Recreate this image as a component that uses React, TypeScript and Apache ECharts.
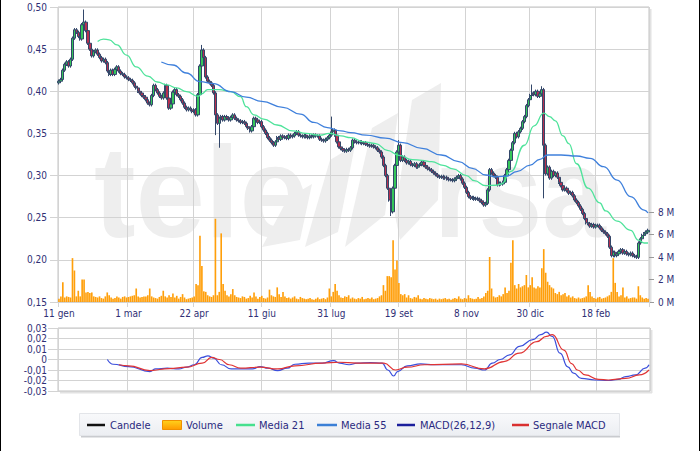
import React, { useEffect, useRef } from "react";
import * as echarts from "echarts";

// ---------- DATA ----------
const tickLabels = ["11 gen", "1 mar", "22 apr", "11 giu", "31 lug", "19 set", "8 nov", "30 dic", "18 feb"];
const tickIndex = [0, 36, 70, 105, 141, 176, 211, 244, 278];

// daily closing prices (EUR)
const closes = [
  0.412, 0.414, 0.425, 0.432, 0.435, 0.430, 0.438, 0.463, 0.473, 0.470,
  0.465, 0.462, 0.479, 0.482, 0.472, 0.457, 0.450, 0.442, 0.447, 0.449,
  0.444, 0.440, 0.436, 0.438, 0.434, 0.424, 0.420, 0.425, 0.420, 0.426,
  0.429, 0.424, 0.421, 0.420, 0.417, 0.416, 0.414, 0.413, 0.410, 0.406,
  0.404, 0.400, 0.398, 0.395, 0.393, 0.390, 0.386, 0.384, 0.395, 0.407,
  0.402, 0.398, 0.394, 0.392, 0.398, 0.407, 0.392, 0.380, 0.385, 0.399,
  0.402, 0.396, 0.394, 0.390, 0.386, 0.381, 0.378, 0.380, 0.378, 0.376,
  0.378, 0.372, 0.396, 0.430, 0.449, 0.440, 0.417, 0.412, 0.410, 0.407,
  0.398, 0.372, 0.362, 0.368, 0.370, 0.366, 0.370, 0.368, 0.366, 0.369,
  0.372, 0.368, 0.366, 0.365, 0.363, 0.364, 0.362, 0.358, 0.356, 0.353,
  0.358, 0.368, 0.366, 0.363, 0.364, 0.358, 0.354, 0.350, 0.345, 0.342,
  0.339, 0.336, 0.340, 0.345, 0.343, 0.347, 0.345, 0.346, 0.344, 0.348,
  0.346, 0.347, 0.350, 0.352, 0.348, 0.347, 0.346, 0.348, 0.346, 0.345,
  0.347, 0.346, 0.348, 0.347, 0.347, 0.343, 0.342, 0.341, 0.343, 0.345,
  0.348, 0.352, 0.354, 0.348, 0.340, 0.334, 0.332, 0.330, 0.329, 0.331,
  0.330, 0.333, 0.342, 0.340, 0.339, 0.339, 0.340, 0.338, 0.339, 0.337,
  0.336, 0.335, 0.336, 0.334, 0.333, 0.330, 0.328, 0.322, 0.312, 0.300,
  0.285, 0.271, 0.257, 0.285, 0.312, 0.328, 0.336, 0.318, 0.322, 0.318,
  0.315, 0.317, 0.313, 0.312, 0.314, 0.310, 0.312, 0.313, 0.316, 0.312,
  0.310, 0.308, 0.307, 0.305, 0.303, 0.301, 0.299, 0.298, 0.299, 0.297,
  0.298, 0.296, 0.295, 0.295, 0.294, 0.296, 0.298, 0.300, 0.296, 0.291,
  0.286, 0.280, 0.275, 0.273, 0.274, 0.272, 0.273, 0.272, 0.270, 0.268,
  0.265, 0.267, 0.283, 0.307, 0.303, 0.300, 0.298, 0.289, 0.291, 0.290,
  0.292, 0.300, 0.307, 0.318, 0.330, 0.339, 0.350, 0.346, 0.352, 0.356,
  0.364, 0.370, 0.383, 0.390, 0.395, 0.398, 0.396, 0.400, 0.394, 0.397,
  0.402, 0.336, 0.302, 0.310, 0.297, 0.305, 0.300, 0.303, 0.298, 0.292,
  0.288, 0.283, 0.285, 0.282, 0.279, 0.280, 0.276, 0.271, 0.268, 0.264,
  0.260, 0.255, 0.249, 0.244, 0.243, 0.240, 0.242, 0.239, 0.241, 0.241,
  0.238, 0.235, 0.233, 0.231, 0.228, 0.215, 0.205, 0.209, 0.205, 0.207,
  0.210, 0.212, 0.208, 0.210, 0.207, 0.206, 0.208, 0.205, 0.204, 0.203,
  0.220, 0.225, 0.229, 0.231, 0.233, 0.235,
];
const firstOpen = 0.41;
const wick = 0.002;
const highSpikes: Record<number, number> = { 13: 0.497, 74: 0.455, 141: 0.37, 176: 0.342, 245: 0.408, 250: 0.406 };
const lowSpikes: Record<number, number> = { 81: 0.348, 83: 0.333, 172: 0.252, 251: 0.273 };

// daily volume (millions)
const volumes = [
  0.3, 0.5, 1.75, 0.4, 0.5, 0.45, 0.4, 3.9, 2.8, 0.5,
  1.0, 0.5, 2.0, 2.0, 0.85, 0.9, 0.8, 0.85, 0.5, 0.45,
  0.4, 0.5, 0.35, 0.3, 0.5, 0.85, 0.6, 0.4, 0.3, 0.35,
  0.5, 0.4, 0.3, 0.45, 0.5, 0.4, 0.45, 0.5, 0.55, 0.6,
  1.2, 0.5, 0.4, 0.45, 0.5, 0.5, 0.6, 1.2, 0.5, 0.4,
  0.35, 0.3, 0.45, 0.55, 1.0, 0.5, 0.4, 0.6, 0.45, 0.75,
  0.4, 0.55, 0.3, 0.45, 0.7, 0.4, 0.25, 0.3, 0.35, 0.4,
  0.5, 1.6, 1.5, 5.9, 3.2, 0.95, 0.9, 0.6, 0.5, 0.45,
  0.6, 7.4, 0.6, 0.9, 6.1, 1.6, 1.0, 0.6, 0.5, 0.7,
  1.15, 0.6, 0.45, 0.4, 0.35, 0.5, 0.45, 0.3, 0.35, 0.55,
  0.4, 0.85, 0.5, 0.3, 0.45, 0.55, 0.35, 0.3, 0.4, 1.1,
  0.6, 0.5, 0.45, 1.3, 0.7, 0.45, 0.9, 0.5, 0.35, 0.4,
  0.3, 0.4, 0.5, 0.3, 0.25, 0.45, 0.35, 0.3, 0.25, 0.3,
  0.35, 0.25, 0.2, 0.3, 0.4, 0.25, 0.3, 0.35, 0.25, 0.4,
  1.2, 0.5, 0.9, 1.6, 1.0, 0.6, 0.4, 0.35, 0.5, 0.45,
  0.6, 0.3, 0.4, 0.3, 0.25, 0.35, 0.3, 0.45, 0.25, 0.3,
  0.35, 0.3, 0.4, 0.25, 0.3, 0.35, 0.5, 0.6, 1.5, 1.0,
  2.3, 2.3, 2.2, 5.5, 2.9, 3.7, 1.7, 0.7, 0.6, 0.7,
  0.4, 0.6, 0.35, 0.3, 0.45, 0.4, 0.6, 0.3, 0.25, 0.35,
  0.3, 0.25, 0.35, 0.3, 0.25, 0.3, 0.2, 0.3, 0.25, 0.3,
  0.35, 0.25, 0.3, 0.2, 0.3, 0.35, 0.3, 0.5, 0.3, 0.25,
  0.35, 0.3, 0.6, 0.35, 0.3, 0.25, 0.3, 0.45, 0.3, 0.35,
  0.5, 0.8, 1.0, 4.0, 1.2, 0.5, 0.4, 0.45, 0.6, 0.5,
  0.7, 1.3, 0.8, 1.0, 3.5, 5.5, 1.5, 1.2, 1.6, 1.3,
  1.4, 1.5, 2.4, 1.3, 1.5, 2.2, 1.3, 1.2, 1.4, 1.3,
  3.0, 4.7, 2.6, 1.8, 1.5, 1.3, 1.2, 0.8, 0.7, 0.9,
  0.6, 0.7, 0.8, 0.5, 0.6, 0.4, 0.5, 0.35, 0.3, 0.4,
  0.3, 0.35, 0.4, 0.5, 1.5, 0.9, 0.5, 0.35, 0.3, 0.4,
  0.45, 0.3, 0.35, 0.4, 0.5, 0.6, 0.9, 3.9, 1.7, 0.9,
  0.5, 0.6, 1.3, 0.4, 0.5, 0.3, 0.35, 0.4, 0.4, 0.3,
  1.4, 0.6, 0.4, 0.3, 0.35, 0.3,
];

// moving averages: [day index, value]
const ma21 = [
  [20, 0.459], [23, 0.462], [26, 0.461], [30, 0.455], [35, 0.443], [40, 0.429], [46, 0.418],
  [51, 0.411], [56, 0.4075], [61, 0.404], [66, 0.3995], [72, 0.394], [74, 0.397], [77, 0.402],
  [83, 0.402], [89, 0.3995], [94, 0.3936], [97, 0.3817], [101, 0.372], [106, 0.367], [113, 0.36],
  [121, 0.353], [128, 0.35], [135, 0.348], [140, 0.35], [146, 0.347], [151, 0.345], [158, 0.34],
  [164, 0.338], [170, 0.33], [176, 0.324], [183, 0.319], [188, 0.318], [193, 0.3165], [199, 0.312],
  [204, 0.308], [211, 0.3], [215, 0.294], [221, 0.288], [226, 0.2885], [229, 0.29], [234, 0.305],
  [241, 0.336], [246, 0.359], [251, 0.374], [254, 0.37], [257, 0.365], [261, 0.347], [264, 0.338],
  [268, 0.314], [274, 0.285], [280, 0.2675], [283, 0.258], [289, 0.246], [296, 0.235], [300, 0.2235],
  [303, 0.22], [305, 0.22],
];
const ma55 = [
  [53, 0.4347], [59, 0.4312], [66, 0.4217], [73, 0.4114], [80, 0.409], [89, 0.3995], [97, 0.393],
  [105, 0.388], [116, 0.381], [125, 0.373], [132, 0.363], [139, 0.357], [146, 0.353], [151, 0.351],
  [159, 0.348], [169, 0.3445], [178, 0.339], [188, 0.3323], [198, 0.3244], [207, 0.3165], [214, 0.3086],
  [221, 0.3007], [226, 0.2985], [232, 0.2995], [237, 0.3046], [244, 0.3125], [249, 0.3193], [253, 0.3244],
  [260, 0.3244], [268, 0.3232], [275, 0.3205], [282, 0.3105], [289, 0.2947], [296, 0.275], [303, 0.2591],
  [305, 0.2556],
];
const macd = [
  [25, 0], [28, -0.0045], [36, -0.0067], [47, -0.0115], [50, -0.009], [56, -0.0083], [62, -0.009],
  [66, -0.0073], [70, -0.005], [74, 0.002], [77, 0.0035], [80, 0.0013], [84, -0.005], [89, -0.009],
  [94, -0.009], [100, -0.009], [104, -0.0067], [108, -0.0083], [113, -0.0105], [118, -0.0083],
  [122, -0.0045], [129, -0.0035], [136, -0.0035], [142, -0.001], [145, -0.0035], [150, -0.005],
  [154, -0.0035], [161, -0.003], [167, -0.0035], [170, -0.01], [173, -0.0157], [175, -0.0115],
  [180, -0.006], [187, -0.0042], [194, -0.005], [201, -0.005], [208, -0.005], [215, -0.0083],
  [220, -0.01], [224, -0.0035], [228, 0], [233, 0.0045], [238, 0.0125], [245, 0.019], [249, 0.0236],
  [252, 0.026], [255, 0.022], [259, 0.006], [263, -0.007], [266, -0.013], [270, -0.018], [277, -0.0195],
  [284, -0.02], [289, -0.019], [293, -0.0163], [298, -0.0147], [303, -0.0083], [305, -0.005],
];
const signal = [
  [31, -0.005], [36, -0.006], [47, -0.0105], [57, -0.0086], [66, -0.0073], [74, -0.0035], [79, 0.002],
  [83, 0], [88, -0.005], [94, -0.0083], [104, -0.0073], [113, -0.009], [122, -0.006], [136, -0.0035],
  [145, -0.0026], [154, -0.0035], [168, -0.0035], [174, -0.01], [180, -0.0073], [189, -0.005],
  [208, -0.0042], [220, -0.009], [230, -0.002], [238, 0.006], [247, 0.017], [252, 0.022], [255, 0.0236],
  [261, 0.009], [265, -0.004], [268, -0.01], [272, -0.0147], [279, -0.019], [284, -0.0195], [293, -0.018],
  [300, -0.0147], [305, -0.01],
];

// ---------- DERIVED TABLES ----------
const categories = closes.map((_, i) => {
  const k = tickIndex.indexOf(i);
  return k >= 0 ? tickLabels[k] : String(i);
});
const candleData = closes.map((c, i) => {
  const o = i === 0 ? firstOpen : closes[i - 1];
  const hi = highSpikes[i] ?? Math.max(o, c) + wick;
  const lo = lowSpikes[i] ?? Math.min(o, c) - wick;
  return [o, c, lo, hi];
});

const FONT = "'DejaVu Sans Condensed', 'Liberation Sans', sans-serif";
const LABEL = "#2f2f75";
const GRIDC = "#d3d3d3";
const showTick = (i: number) => tickIndex.includes(i);
const comma = (v: number) => {
  const n = Math.round(v * 100);
  return n === 0 ? "0" : (n / 100).toFixed(2).replace(".", ",");
};

function legendGroup() {
  const y = 425;
  const txt = (x: number, t: string) => ({
    type: "text",
    style: { x, y, text: t, fill: "#2a2a80", font: `11px ${FONT}`, verticalAlign: "middle", textAlign: "left" },
  });
  const ln = (x1: number, x2: number, c: string) => ({
    type: "line",
    shape: { x1, y1: y, x2, y2: y },
    style: { stroke: c, lineWidth: 2.5 },
  });
  return {
    type: "group",
    children: [
      { type: "line", shape: { x1: 81, y1: 436.5, x2: 620, y2: 436.5 }, style: { stroke: "#c9cbcf", lineWidth: 2 } },
      {
        type: "rect",
        shape: { x: 79.5, y: 413.5, width: 540, height: 22 },
        style: {
          fill: new echarts.graphic.LinearGradient(0, 0, 0, 1, [
            { offset: 0, color: "#f8f9fb" },
            { offset: 1, color: "#eceef2" },
          ]),
          stroke: "#e3e5e9",
          lineWidth: 1,
        },
      },
      ln(87, 105, "#111111"),
      txt(110, "Candele"),
      {
        type: "rect",
        shape: { x: 162.5, y: 420.5, width: 19, height: 9 },
        style: {
          fill: new echarts.graphic.LinearGradient(0, 0, 0, 1, [
            { offset: 0, color: "#ffd21c" },
            { offset: 1, color: "#ff9a00" },
          ]),
          stroke: "#f09000",
          lineWidth: 1,
        },
      },
      txt(186, "Volume"),
      ln(236, 255, "#46e08e"),
      txt(259, "Media 21"),
      ln(317, 337, "#3a7fd6"),
      txt(341, "Media 55"),
      ln(397, 415, "#1b1f9c"),
      txt(420, "MACD(26,12,9)"),
      ln(512, 529, "#d93030"),
      txt(533, "Segnale MACD"),
    ],
  };
}

function watermark() {
  const wm = "#eeeeee";
  const word = (x: number, t: string, sx: number) => ({
    type: "text",
    z: -10,
    x,
    y: 192,
    scaleX: sx,
    style: { x: 0, y: 0, text: t, fill: wm, font: `bold 130px 'Liberation Sans', sans-serif`, verticalAlign: "middle", textAlign: "left" },
  });
  const poly = (pts: number[][]) => ({ type: "polygon", z: -10, shape: { points: pts }, style: { fill: wm } });
  return [
    word(94, "tele", 0.96),
    word(434, "rsa", 0.88),
    poly([[412, 100], [441, 83], [438, 200], [400, 240], [395, 215]]),
    poly([[372, 128], [398, 113], [385, 215], [345, 247], [352, 215]]),
    poly([[330, 160], [355, 145], [338, 232], [305, 247], [312, 222]]),
    poly([[288, 198], [312, 184], [300, 240], [262, 247], [270, 232]]),
  ];
}

export default function App() {
  const ref = useRef<HTMLDivElement>(null);
  useEffect(() => {
    if (!ref.current) return;
    const chart = echarts.init(ref.current, null, { renderer: "svg" });
    const axisLabelBase = { color: LABEL, fontSize: 10, fontFamily: FONT };
    chart.setOption({
      animation: false,
      backgroundColor: "#ffffff",
      grid: [
        { left: 58, top: 7, width: 591, height: 295, show: true, borderColor: "#c2c2c2", borderWidth: 1 },
        { left: 58, top: 212, width: 591, height: 90 },
        { left: 58, top: 328, width: 592, height: 63, show: true, borderColor: "#c2c2c2", borderWidth: 1 },
      ],
      xAxis: [
        {
          type: "category",
          gridIndex: 0,
          data: categories,
          boundaryGap: true,
          axisLine: { show: false },
          axisTick: { show: true, interval: showTick, length: 5, lineStyle: { color: GRIDC } },
          axisLabel: { ...axisLabelBase, interval: showTick, margin: 6 },
          splitLine: { show: true, interval: showTick, lineStyle: { color: GRIDC } },
        },
        { type: "category", gridIndex: 1, data: categories, boundaryGap: true, show: false },
        {
          type: "category",
          gridIndex: 2,
          data: categories,
          boundaryGap: true,
          axisLine: { show: false },
          axisTick: { show: false },
          axisLabel: { show: false },
          splitLine: { show: true, interval: showTick, lineStyle: { color: GRIDC } },
        },
      ],
      yAxis: [
        {
          type: "value",
          gridIndex: 0,
          min: 0.15,
          max: 0.5,
          interval: 0.05,
          axisLine: { show: false },
          axisTick: { show: true, length: 8, lineStyle: { color: GRIDC } },
          axisLabel: { ...axisLabelBase, margin: 11, formatter: (v: number) => v.toFixed(2).replace(".", ",") },
          splitLine: { show: true, lineStyle: { color: GRIDC } },
        },
        {
          type: "value",
          gridIndex: 1,
          position: "right",
          min: 0,
          max: 8,
          interval: 2,
          axisLine: { show: false },
          axisTick: { show: true, length: 5, lineStyle: { color: "#9a9a9a" } },
          axisLabel: { ...axisLabelBase, margin: 9, formatter: (v: number) => `${v} M` },
          splitLine: { show: false },
        },
        {
          type: "value",
          gridIndex: 2,
          min: -0.03,
          max: 0.03,
          interval: 0.01,
          axisLine: { show: false },
          axisTick: { show: true, length: 10, lineStyle: { color: GRIDC } },
          axisLabel: { ...axisLabelBase, margin: 11, formatter: comma },
          splitLine: { show: true, lineStyle: { color: GRIDC } },
        },
      ],
      series: [
        {
          name: "Volume",
          type: "bar",
          xAxisIndex: 1,
          yAxisIndex: 1,
          data: volumes,
          barWidth: "85%",
          itemStyle: { color: "#ff9f0a" },
          z: 1,
        },
        {
          name: "Candele",
          type: "candlestick",
          xAxisIndex: 0,
          yAxisIndex: 0,
          data: candleData,
          barWidth: 2.8,
          itemStyle: {
            color: "#35c65a",
            color0: "#b8304f",
            borderColor: "#33476a",
            borderColor0: "#33476a",
            borderWidth: 1,
          },
          z: 3,
        },
        {
          name: "Media 21",
          type: "line",
          xAxisIndex: 0,
          yAxisIndex: 0,
          data: ma21,
          smooth: true,
          smoothMonotone: "x",
          showSymbol: false,
          lineStyle: { color: "#4fe39b", width: 1.3 },
          z: 4,
        },
        {
          name: "Media 55",
          type: "line",
          xAxisIndex: 0,
          yAxisIndex: 0,
          data: ma55,
          smooth: true,
          smoothMonotone: "x",
          showSymbol: false,
          lineStyle: { color: "#3f80dc", width: 1.3 },
          z: 4,
        },
        {
          name: "MACD(26,12,9)",
          type: "line",
          xAxisIndex: 2,
          yAxisIndex: 2,
          data: macd,
          smooth: true,
          smoothMonotone: "x",
          showSymbol: false,
          lineStyle: { color: "#3b4fdc", width: 1.2 },
          z: 4,
        },
        {
          name: "Segnale MACD",
          type: "line",
          xAxisIndex: 2,
          yAxisIndex: 2,
          data: signal,
          smooth: true,
          smoothMonotone: "x",
          showSymbol: false,
          lineStyle: { color: "#e03434", width: 1.2 },
          z: 4,
        },
      ],
      graphic: [
        ...watermark(),
        { type: "line", shape: { x1: 650.5, y1: 9, x2: 650.5, y2: 303 }, style: { stroke: "#e2e2e2", lineWidth: 2 } },
        { type: "line", shape: { x1: 651.5, y1: 330, x2: 651.5, y2: 393 }, style: { stroke: "#e2e2e2", lineWidth: 2 } },
        { type: "line", shape: { x1: 60, y1: 392.5, x2: 652, y2: 392.5 }, style: { stroke: "#e2e2e2", lineWidth: 2 } },
        legendGroup(),
        { type: "line", shape: { x1: 0.5, y1: 0, x2: 0.5, y2: 451 }, style: { stroke: "#000", lineWidth: 1 } },
        { type: "line", shape: { x1: 699.5, y1: 0, x2: 699.5, y2: 451 }, style: { stroke: "#000", lineWidth: 1 } },
      ],
    });
    return () => chart.dispose();
  }, []);
  return <div ref={ref} style={{ position: "absolute", left: 0, top: 0, width: 700, height: 451 }} />;
}
